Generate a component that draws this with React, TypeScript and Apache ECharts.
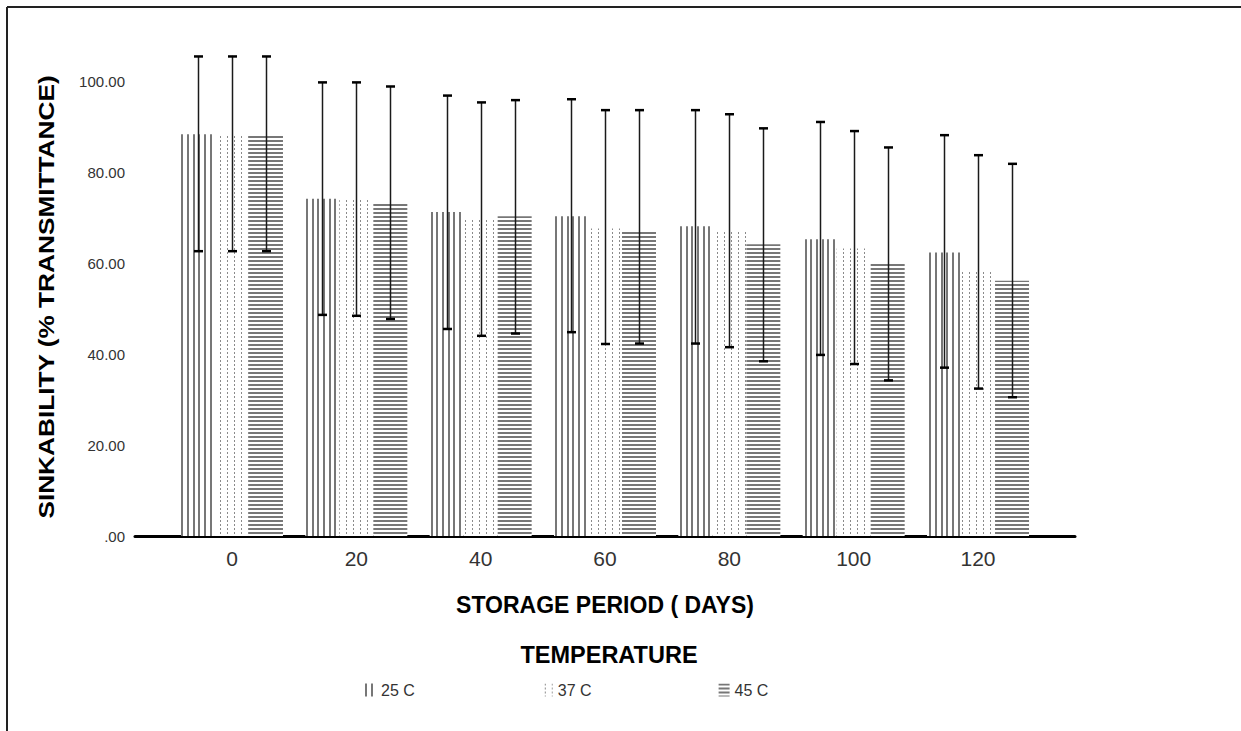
import React, { useEffect, useRef } from "react";
import * as echarts from "echarts";

const days = [0, 20, 40, 60, 80, 100, 120];
const seriesNames = ["25 C", "37 C", "45 C"];
const mean25 = [88.3, 74.1, 71.2, 70.3, 68.1, 65.2, 62.3];
const mean37 = [88.0, 74.0, 69.6, 67.6, 66.8, 63.2, 58.0];
const mean45 = [88.3, 73.2, 70.3, 67.1, 64.1, 59.9, 56.1];
const high25 = [105.4, 99.7, 96.8, 96.0, 93.6, 91.0, 88.1];
const low25 = [62.6, 48.6, 45.5, 44.8, 42.3, 39.8, 37.0];
const high37 = [105.4, 99.7, 95.3, 93.6, 92.7, 89.0, 83.7];
const low37 = [62.6, 48.4, 44.0, 42.2, 41.5, 37.8, 32.4];
const high45 = [105.4, 98.8, 95.8, 93.6, 89.6, 85.4, 81.8];
const low45 = [62.6, 47.7, 44.5, 42.3, 38.4, 34.2, 30.5];
const yTicks = [0, 20, 40, 60, 80, 100];

const FONT = "'Liberation Sans', Arial, sans-serif";
const BAR_W = 34;

function makePattern(kind: string) {
  const c = document.createElement("canvas");
  const g = c.getContext("2d")!;
  const gray = "#777777";
  if (kind === "v") {
    c.width = 17; c.height = 4;
    g.fillStyle = "#fff"; g.fillRect(0, 0, 17, 4);
    g.fillStyle = gray;
    g.fillRect(0, 0, 2, 4);
    g.fillRect(6, 0, 2, 4);
    g.fillRect(11, 0, 2, 4);
  } else if (kind === "d") {
    c.width = 7; c.height = 4;
    g.fillStyle = "#fff"; g.fillRect(0, 0, 7, 4);
    g.fillStyle = "#8a8a8a"; g.fillRect(3, 0, 1, 2);
  } else {
    c.width = 4; c.height = 4;
    g.fillStyle = "#fff"; g.fillRect(0, 0, 4, 4);
    g.fillStyle = gray; g.fillRect(0, 0, 4, 2);
  }
  return { image: c, repeat: "repeat", imageWidth: c.width, imageHeight: c.height } as any;
}

export default function App() {
  const ref = useRef<HTMLDivElement>(null);
  useEffect(() => {
    const chart = echarts.init(ref.current!, null, { renderer: "svg" });
    const means = [mean25, mean37, mean45];
    const highs = [high25, high37, high45];
    const lows = [low25, low37, low45];
    const pats = [makePattern("v"), makePattern("d"), makePattern("h")];
    const offsets = [-BAR_W, 0, BAR_W];

    const barSeries = seriesNames.map((n, i) => ({
      type: "bar",
      name: n,
      barWidth: BAR_W,
      barGap: "0%",
      data: days.map((d, k) => [d, means[i][k]]),
      itemStyle: { color: pats[i] },
      z: 2,
    }));
    const errSeries = seriesNames.map((n, i) => ({
      type: "custom",
      name: "err" + n,
      z: 5,
      data: days.map((d, k) => [d, lows[i][k], highs[i][k]]),
      encode: { x: 0, y: [1, 2] },
      renderItem: (params: any, api: any) => {
        const x = api.value(0);
        const top = api.coord([x, api.value(2)]);
        const bot = api.coord([x, api.value(1)]);
        const cx = Math.round(top[0] + offsets[i]) + 0.5;
        return {
          type: "group",
          children: [
            { type: "line", shape: { x1: cx, y1: top[1], x2: cx, y2: bot[1] }, style: { stroke: "#1a1a1a", lineWidth: 1.5 } },
            { type: "line", shape: { x1: cx - 4.5, y1: top[1], x2: cx + 4.5, y2: top[1] }, style: { stroke: "#000", lineWidth: 2.5 } },
            { type: "line", shape: { x1: cx - 4.5, y1: bot[1], x2: cx + 4.5, y2: bot[1] }, style: { stroke: "#000", lineWidth: 2.5 } },
          ],
        };
      },
    }));

    chart.setOption({
      animation: false,
      backgroundColor: "#fff",
      textStyle: { fontFamily: FONT },
      grid: { left: 135, right: 166, top: 56, bottom: 195 },
      legend: {
        data: seriesNames,
        left: 360,
        top: 677,
        itemGap: 127,
        itemWidth: 11,
        itemHeight: 13,
        icon: "rect",
        textStyle: { fontSize: 16, color: "#333", fontFamily: FONT },
      },
      xAxis: {
        type: "value",
        min: -15.6,
        max: 135.6,
        name: "STORAGE PERIOD ( DAYS)",
        nameLocation: "middle",
        nameGap: 57,
        nameTextStyle: { fontSize: 23, fontWeight: "bold", color: "#000", fontFamily: FONT },
        axisLine: { show: true, onZero: false, lineStyle: { color: "#000", width: 3 } },
        axisTick: { show: false },
        splitLine: { show: false },
        axisLabel: {
          customValues: days,
          fontSize: 21,
          color: "#333",
          margin: 12,
          fontFamily: FONT,
        },
      },
      yAxis: {
        type: "value",
        min: 0,
        max: 105.5,
        interval: 20,
        axisLine: { show: true, lineStyle: { color: "#888", width: 1 } },
        axisTick: { show: false },
        splitLine: { show: false },
        axisLabel: {
          customValues: yTicks,
          fontSize: 15,
          color: "#333",
          margin: 10,
          fontFamily: FONT,
          formatter: (v: number) => (v === 0 ? ".00" : v.toFixed(2)),
        },
      },
      graphic: [
        { type: "line", shape: { x1: 7, y1: 7, x2: 1241, y2: 7 }, style: { stroke: "#222", lineWidth: 2 } },
        { type: "line", shape: { x1: 7, y1: 7, x2: 7, y2: 731 }, style: { stroke: "#222", lineWidth: 2 } },
        {
          type: "text",
          x: 46,
          y: 297,
          rotation: Math.PI / 2,
          scaleX: 1.22,
          style: { text: "SINKABILITY (% TRANSMITTANCE)", fontSize: 21.5, fontWeight: "bold", fill: "#000", align: "center", verticalAlign: "middle", fontFamily: FONT },
        },
        {
          type: "text",
          x: 609,
          y: 655,
          style: { text: "TEMPERATURE", fontSize: 23.5, fontWeight: "bold", fill: "#000", align: "center", verticalAlign: "middle", fontFamily: FONT },
        },
      ],
      series: [...barSeries, ...errSeries],
    });
    return () => chart.dispose();
  }, []);
  return <div ref={ref} style={{ position: "fixed", left: 0, top: 0, width: 1241, height: 731 }} />;
}
